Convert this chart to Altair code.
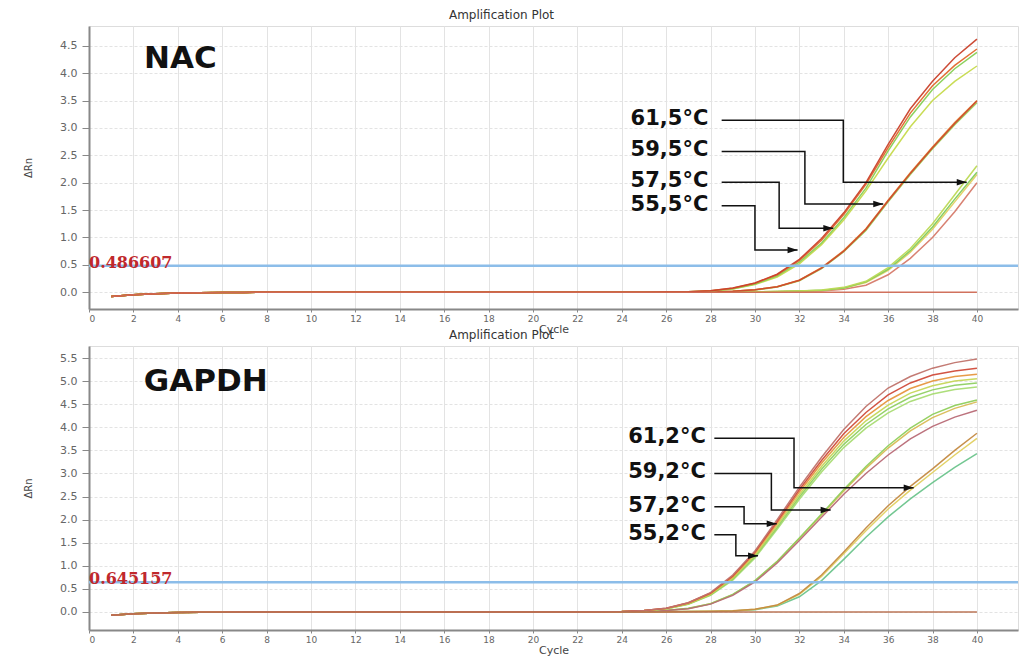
import altair as alt
import pandas as pd

# ---------------- data ----------------
# NAC panel: cycles 1-24 shared baseline, then per-curve values for cycles 25-40
nac_base = [-0.075, -0.045, -0.026, -0.015, -0.008, -0.004, -0.002, 0.0, 0.0, 0.0,
            0.0, 0.0, 0.0, 0.0, 0.0, 0.0, 0.0, 0.0, 0.0, 0.0, 0.0, 0.0, 0.0, 0.0]
nac_curves = {
    "n_c4": [0, 0, 0, 0, 0.003, 0.006, 0.01, 0.017, 0.025, 0.055, 0.13, 0.32, 0.62, 1.0, 1.47, 2.0],
    "n_c3": [0, 0, 0, 0, 0.004, 0.008, 0.013, 0.022, 0.033, 0.075, 0.18, 0.4, 0.73, 1.15, 1.65, 2.15],
    "n_c2": [0, 0, 0, 0, 0.005, 0.01, 0.015, 0.025, 0.035, 0.08, 0.19, 0.42, 0.76, 1.19, 1.7, 2.19],
    "n_c1": [0, 0, 0, 0, 0.005, 0.01, 0.015, 0.025, 0.04, 0.09, 0.2, 0.45, 0.8, 1.25, 1.78, 2.31],
    "n_b2": [0, 0, 0.004, 0.01, 0.02, 0.04, 0.095, 0.21, 0.43, 0.74, 1.13, 1.65, 2.15, 2.62, 3.06, 3.46],
    "n_b1": [0, 0, 0.005, 0.01, 0.02, 0.045, 0.1, 0.22, 0.45, 0.76, 1.16, 1.68, 2.18, 2.65, 3.1, 3.5],
    "n_b3": [0, 0, 0.005, 0.01, 0.02, 0.045, 0.1, 0.22, 0.44, 0.75, 1.15, 1.67, 2.17, 2.64, 3.08, 3.49],
    "n_a4": [0.0, 0.004, 0.01, 0.022, 0.06, 0.14, 0.28, 0.52, 0.87, 1.32, 1.85, 2.45, 3.02, 3.5, 3.85, 4.13],
    "n_a3": [0.0, 0.004, 0.01, 0.025, 0.065, 0.15, 0.3, 0.55, 0.9, 1.36, 1.9, 2.58, 3.2, 3.7, 4.08, 4.38],
    "n_a2": [0.0, 0.005, 0.012, 0.03, 0.075, 0.165, 0.32, 0.58, 0.95, 1.42, 1.97, 2.64, 3.27, 3.77, 4.14, 4.44],
    "n_a1": [0.0, 0.005, 0.012, 0.03, 0.08, 0.17, 0.33, 0.6, 0.98, 1.45, 2.0, 2.7, 3.35, 3.85, 4.28, 4.62],
    "n_ntc": [0, 0, 0, 0, 0, 0, 0, 0, 0, 0, 0, 0, 0, 0, 0, 0],
}

# GAPDH panel: cycles 1-20 shared baseline, then per-curve values for cycles 21-40
gap_base = [-0.07, -0.04, -0.022, -0.012, -0.006, -0.003, -0.001, 0.0, 0.0, 0.0,
            0.0, 0.0, 0.0, 0.0, 0.0, 0.0, 0.0, 0.0, 0.0, 0.0]
gap_curves = {
    "g_c3": [0, 0, 0, 0, 0, 0.004, 0.008, 0.012, 0.02, 0.05, 0.13, 0.33, 0.68, 1.14, 1.62, 2.06, 2.45, 2.8, 3.13, 3.43],
    "g_c2": [0, 0, 0, 0, 0, 0.005, 0.01, 0.014, 0.024, 0.058, 0.145, 0.38, 0.77, 1.26, 1.76, 2.23, 2.64, 3.02, 3.4, 3.76],
    "g_c1": [0, 0, 0, 0, 0, 0.005, 0.01, 0.015, 0.025, 0.06, 0.15, 0.4, 0.8, 1.3, 1.82, 2.3, 2.72, 3.1, 3.5, 3.87],
    "g_b3": [0, 0, 0, 0.005, 0.01, 0.03, 0.078, 0.178, 0.375, 0.672, 1.09, 1.59, 2.1, 2.62, 3.11, 3.55, 3.92, 4.21, 4.41, 4.55],
    "g_b1": [0, 0, 0, 0.005, 0.01, 0.03, 0.08, 0.18, 0.38, 0.68, 1.1, 1.6, 2.12, 2.65, 3.15, 3.6, 3.98, 4.28, 4.47, 4.59],
    "g_b2": [0, 0, 0, 0.005, 0.01, 0.03, 0.07, 0.17, 0.36, 0.65, 1.06, 1.55, 2.05, 2.55, 3.0, 3.4, 3.75, 4.02, 4.22, 4.37],
    "g_a6": [0, 0, 0.004, 0.009, 0.025, 0.065, 0.165, 0.36, 0.69, 1.17, 1.79, 2.44, 3.03, 3.56, 3.98, 4.31, 4.56, 4.72, 4.82, 4.87],
    "g_a5": [0, 0, 0.004, 0.009, 0.026, 0.068, 0.17, 0.37, 0.71, 1.2, 1.83, 2.49, 3.09, 3.63, 4.06, 4.4, 4.65, 4.81, 4.91, 4.96],
    "g_a4": [0, 0, 0.004, 0.01, 0.028, 0.07, 0.18, 0.38, 0.73, 1.23, 1.87, 2.54, 3.15, 3.7, 4.14, 4.48, 4.74, 4.9, 5.0, 5.05],
    "g_a3": [0, 0, 0.005, 0.01, 0.03, 0.075, 0.19, 0.4, 0.76, 1.27, 1.92, 2.6, 3.22, 3.78, 4.23, 4.58, 4.84, 5.0, 5.1, 5.15],
    "g_a2": [0, 0, 0.005, 0.01, 0.03, 0.08, 0.2, 0.41, 0.78, 1.3, 1.96, 2.65, 3.28, 3.86, 4.32, 4.7, 4.96, 5.13, 5.22, 5.28],
    "g_a1": [0, 0, 0.005, 0.01, 0.03, 0.08, 0.2, 0.42, 0.8, 1.32, 2.0, 2.7, 3.35, 3.95, 4.45, 4.85, 5.1, 5.28, 5.4, 5.48],
    "g_ntc": [0, 0, 0, 0, 0, 0, 0, 0, 0, 0, 0, 0, 0, 0, 0, 0, 0, 0, 0, 0],
}

# thresholds
nac_threshold = 0.486607
gap_threshold = 0.645157

# annotation arrows (data units): label, line y, elbow x, target y, tip x
nac_labels = ["61,5°C", "59,5°C", "57,5°C", "55,5°C"]
nac_lab_y = [3.14, 2.57, 2.01, 1.58]
nac_elbow_x = [33.98, 32.25, 31.09, 30.0]
nac_tgt_y = [2.01, 1.61, 1.17, 0.77]
nac_tip_x = [39.54, 35.78, 33.53, 31.92]
nac_start_x = 28.5
nac_text_x = 27.9

gap_labels = ["61,2°C", "59,2°C", "57,2°C", "55,2°C"]
gap_lab_y = [3.76, 3.0, 2.28, 1.67]
gap_elbow_x = [31.76, 30.74, 29.51, 29.14]
gap_tgt_y = [2.69, 2.21, 1.91, 1.22]
gap_tip_x = [37.15, 33.41, 30.98, 30.14]
gap_start_x = 28.17
gap_text_x = 27.79

x_ticks = list(range(0, 41, 2))
nac_y_ticks = [0.0, 0.5, 1.0, 1.5, 2.0, 2.5, 3.0, 3.5, 4.0, 4.5]
gap_y_ticks = [0.0, 0.5, 1.0, 1.5, 2.0, 2.5, 3.0, 3.5, 4.0, 4.5, 5.0, 5.5]

# ---------------- styling ----------------
curve_colors = {
    "n_c4": "#d67a6a", "n_c3": "#e3cf62", "n_c2": "#7fcc5c", "n_c1": "#bcd955",
    "n_b2": "#9bd35a", "n_b1": "#e58a32", "n_b3": "#cc4a2e",
    "n_a4": "#c6da4c", "n_a3": "#86cf55", "n_a2": "#e2682c", "n_a1": "#c9412b",
    "n_ntc": "#cf6a55",
    "g_c3": "#6cc48c", "g_c2": "#e2d060", "g_c1": "#c48a42",
    "g_b3": "#d9bb55", "g_b1": "#8fcf5c", "g_b2": "#b86a76",
    "g_a6": "#a9dc74", "g_a5": "#8fd062", "g_a4": "#c5d657", "g_a3": "#e6963e",
    "g_a2": "#d04b3a", "g_a1": "#c0736c", "g_ntc": "#b8704f",
}
FONT = "DejaVu Sans"


def curve_frame(base, curves):
    rows = []
    for name, tail in curves.items():
        vals = base + tail
        for c, v in zip(range(1, 41), vals):
            rows.append({"curve": name, "cycle": c, "value": v})
    return pd.DataFrame(rows)


def arrow_frames(labels, lab_y, elbow_x, tgt_y, tip_x, start_x, text_x):
    seg, heads, texts = [], [], []
    for i, lab in enumerate(labels):
        pts = [(start_x, lab_y[i]), (elbow_x[i], lab_y[i]), (elbow_x[i], tgt_y[i]), (tip_x[i], tgt_y[i])]
        for k, (px, py) in enumerate(pts):
            seg.append({"label": lab, "step": k, "x": px, "y": py})
        heads.append({"label": lab, "x": tip_x[i], "y": tgt_y[i]})
        texts.append({"label": lab, "x": text_x, "y": lab_y[i]})
    return pd.DataFrame(seg), pd.DataFrame(heads), pd.DataFrame(texts)


color_scale = alt.Scale(domain=list(curve_colors.keys()), range=list(curve_colors.values()))
ARROW = "M0,0L-2,-0.65L-2,0.65Z"


def panel(base, curves, thr, gene, gene_x, gene_y, ann, ydom, yticks, height):
    xs = alt.Scale(domain=[0, 41.85], nice=False, zero=False)
    ys = alt.Scale(domain=ydom, nice=False, zero=False)
    xax = alt.Axis(values=x_ticks, title="Cycle", format="d", labelFontSize=9,
                   labelColor="#666", titleFontSize=11, titleFontWeight="normal",
                   titleColor="#444", tickSize=3, tickColor="#888", domainColor="#888",
                   domainWidth=2, grid=True, gridColor="#e3e3e3", labelPadding=2,
                   titlePadding=0, labelFont=FONT, titleFont=FONT, labelOverlap=False)
    yax = alt.Axis(values=yticks, title="ΔRn", format=".1f", labelFontSize=11,
                   labelColor="#666", titleFontSize=10, titleFontWeight="normal",
                   titleColor="#444", tickSize=7, tickColor="#888", domainColor="#888",
                   domainWidth=2, grid=True, gridColor="#e3e3e3", gridDash=[3, 2],
                   labelPadding=5, titlePadding=26, labelFont=FONT, titleFont=FONT,
                   labelOverlap=False)

    df = curve_frame(base, curves)
    lines = alt.Chart(df).mark_line(strokeWidth=1.5, opacity=0.95).encode(
        x=alt.X("cycle:Q", scale=xs, axis=xax),
        y=alt.Y("value:Q", scale=ys, axis=yax),
        color=alt.Color("curve:N", scale=color_scale, legend=None),
        order=alt.Order("cycle:Q"),
    )
    thr_df = pd.DataFrame({"t": [thr], "x": [0.0], "lab": [f"{thr:.6f}"]})
    thr_rule = alt.Chart(thr_df).mark_rule(color="#8cbde9", strokeWidth=2.5).encode(
        y=alt.Y("t:Q", axis=yax))
    thr_text = alt.Chart(thr_df).mark_text(
        align="left", baseline="alphabetic", dy=2, font="DejaVu Serif", fontWeight="bold",
        fontSize=16, color="#c0282c"
    ).encode(x=alt.X("x:Q", axis=xax), y=alt.Y("t:Q", axis=yax), text="lab:N")

    gene_df = pd.DataFrame({"x": [gene_x], "y": [gene_y], "g": [gene]})
    gene_text = alt.Chart(gene_df).mark_text(
        align="left", baseline="middle", font=FONT, fontWeight="bold", fontSize=31, color="#111"
    ).encode(x=alt.X("x:Q", axis=xax), y=alt.Y("y:Q", axis=yax), text="g:N")

    seg, heads, texts = ann
    seg_l = alt.Chart(seg).mark_line(color="#111", strokeWidth=1.5).encode(
        x=alt.X("x:Q", axis=xax), y=alt.Y("y:Q", axis=yax), detail="label:N",
        order=alt.Order("step:Q"))
    head_p = alt.Chart(heads).mark_point(shape=ARROW, size=100, filled=True, color="#111",
                                         opacity=1, strokeWidth=0).encode(
        x=alt.X("x:Q", axis=xax), y=alt.Y("y:Q", axis=yax))
    lab_t = alt.Chart(texts).mark_text(
        align="right", baseline="middle", font=FONT, fontWeight="bold", fontSize=21, color="#111", dy=-1
    ).encode(x=alt.X("x:Q", axis=xax), y=alt.Y("y:Q", axis=yax), text="label:N")

    return alt.layer(lines, thr_rule, thr_text, gene_text, seg_l, head_p, lab_t).properties(
        width=929, height=height,
        title=alt.TitleParams("Amplification Plot", fontSize=12, font=FONT, fontWeight="normal",
                              color="#333", offset=4, dx=-52, anchor="middle"),
    )


top = panel(nac_base, nac_curves, nac_threshold, "NAC", 2.48, 4.26,
            arrow_frames(nac_labels, nac_lab_y, nac_elbow_x, nac_tgt_y, nac_tip_x, nac_start_x, nac_text_x),
            [-0.305, 4.86], nac_y_ticks, 283)
bottom = panel(gap_base, gap_curves, gap_threshold, "GAPDH", 2.47, 4.99,
               arrow_frames(gap_labels, gap_lab_y, gap_elbow_x, gap_tgt_y, gap_tip_x, gap_start_x, gap_text_x),
               [-0.39, 5.76], gap_y_ticks, 284)

chart = alt.vconcat(top, bottom, spacing=37, bounds="flush").properties(
    padding={"left": 23, "top": 8, "right": 0, "bottom": 0},
    background="white",
).configure_view(stroke="#dddddd", strokeWidth=1).configure_axis(labelOverlap=False)

chart.save("out.html", embed_options={"renderer": "svg", "actions": False})
